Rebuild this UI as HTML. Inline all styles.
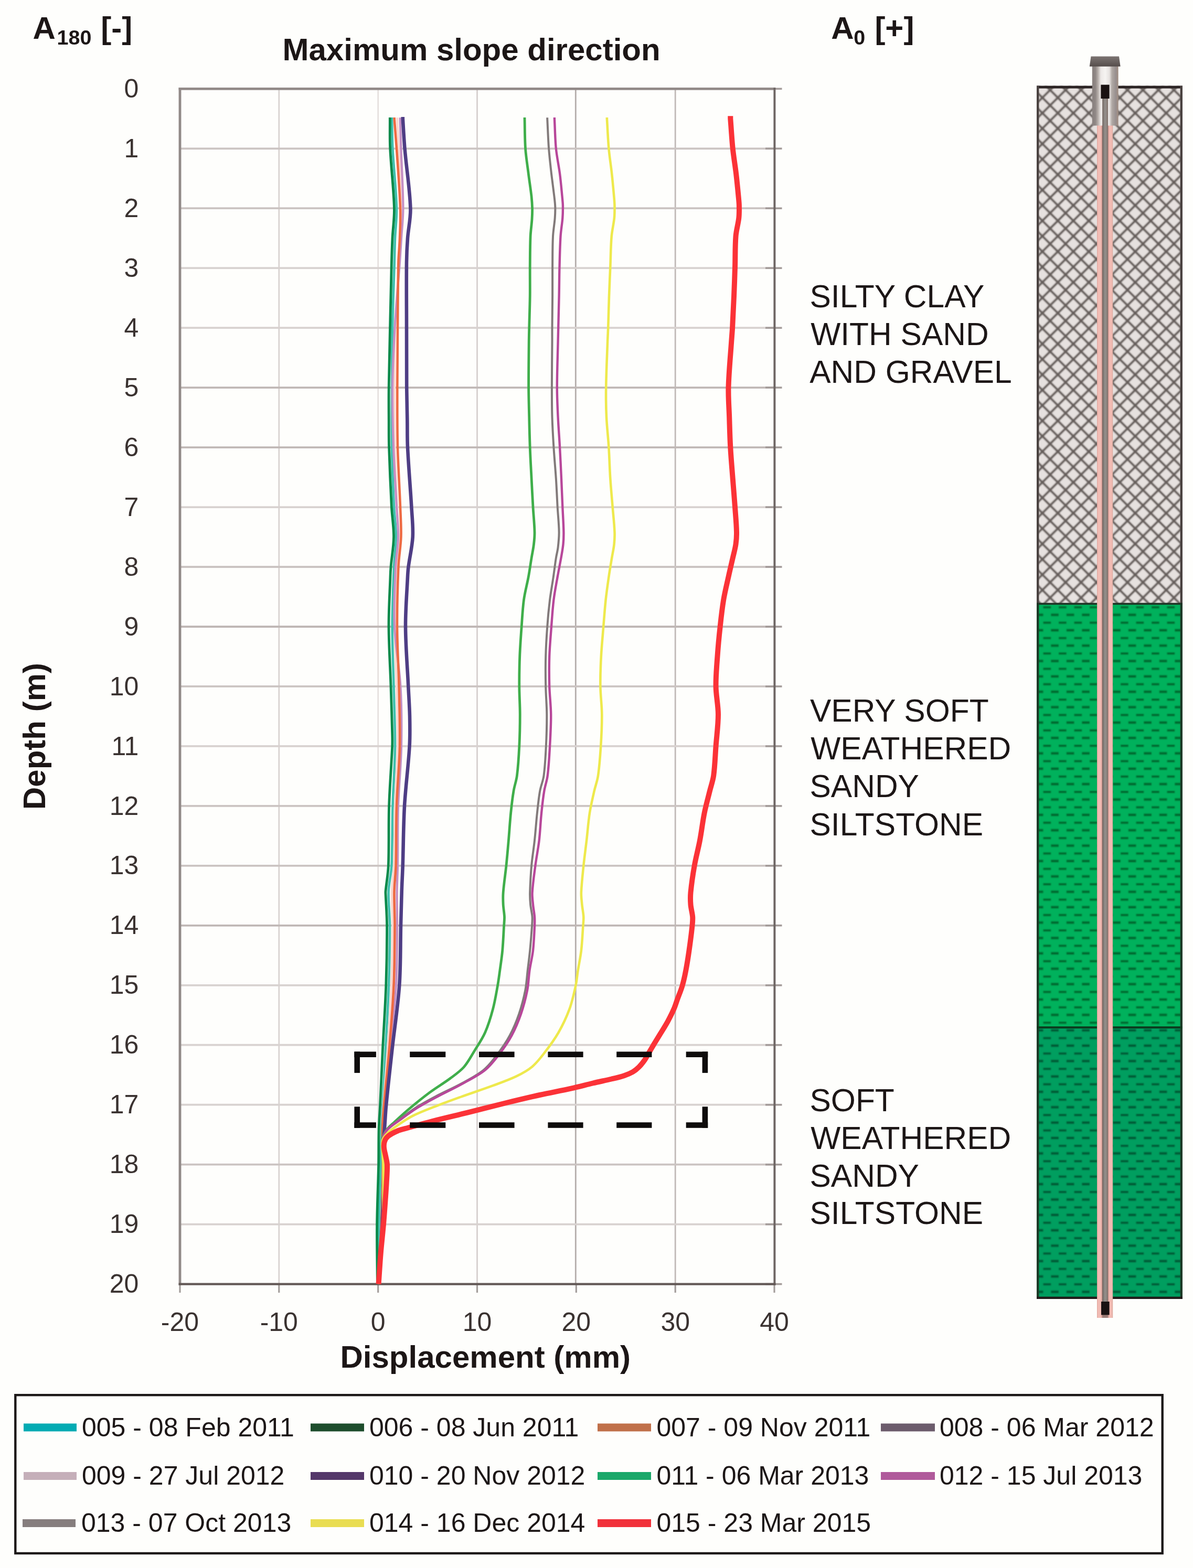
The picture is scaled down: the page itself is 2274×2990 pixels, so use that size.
<!DOCTYPE html>
<html lang="en">
<head>
<meta charset="utf-8">
<title>Inclinometer displacement profile - maximum slope direction</title>
<style>
html,body{margin:0;padding:0;background:#fefefc;}
body{width:2274px;height:2990px;overflow:hidden;font-family:"Liberation Sans",Arial,sans-serif;}
svg{display:block;}
</style>
</head>
<body>
<svg width="2274" height="2990" viewBox="0 0 2274 2990" role="img" aria-label="Inclinometer displacement profile" font-family="'Liberation Sans', Arial, sans-serif">
<defs>
<pattern id="hatch" width="29.5" height="29.34" patternUnits="userSpaceOnUse" x="1927.9" y="127.55000000000001"><rect width="29.5" height="29.34" fill="#e6e1df"/><path d="M-14.75,-14.67 L44.25,44.01 M-14.75,14.67 L14.75,44.01 M14.75,-14.67 L44.25,14.67 M44.25,-14.67 L-14.75,44.01 M14.75,-14.67 L-14.75,14.67 M44.25,14.67 L14.75,44.01" stroke="#665e5b" stroke-width="4.3" fill="none"/><rect x="-3.00" y="-3.00" width="6.0" height="6.0" fill="#665e5b"/><rect x="26.50" y="-3.00" width="6.0" height="6.0" fill="#665e5b"/><rect x="-3.00" y="26.34" width="6.0" height="6.0" fill="#665e5b"/><rect x="26.50" y="26.34" width="6.0" height="6.0" fill="#665e5b"/><rect x="11.75" y="11.67" width="6.0" height="6.0" fill="#665e5b"/></pattern>
<pattern id="dash1" width="29.5" height="29.34" patternUnits="userSpaceOnUse" x="1929.5" y="1097.29"><rect width="29.5" height="29.34" fill="#04b15b"/><rect x="0" y="-0.5" width="14.750" height="4.668" fill="#04682e"/><rect x="14.750" y="14.170" width="14.750" height="4.668" fill="#04682e"/></pattern>
<pattern id="dash2" width="29.5" height="29.34" patternUnits="userSpaceOnUse" x="1929.5" y="1097.29"><rect width="29.5" height="29.34" fill="#029e5f"/><rect x="0" y="-0.5" width="14.750" height="4.668" fill="#045a36"/><rect x="14.750" y="14.170" width="14.750" height="4.668" fill="#045a36"/></pattern>
<filter id="soft" x="0" y="0" width="1" height="1" filterUnits="objectBoundingBox"><feGaussianBlur stdDeviation="1.0"/></filter>
<filter id="soft2" x="0" y="0" width="1" height="1" filterUnits="objectBoundingBox"><feGaussianBlur stdDeviation="1.0"/></filter>
<linearGradient id="casing" x1="0" x2="1" y1="0" y2="0"><stop offset="0" stop-color="#8a8280"/><stop offset="0.12" stop-color="#8e8684"/><stop offset="0.22" stop-color="#b4aca8"/><stop offset="0.33" stop-color="#ece8e6"/><stop offset="0.5" stop-color="#f6f4f2"/><stop offset="0.66" stop-color="#e6e2e0"/><stop offset="0.76" stop-color="#b0a8a4"/><stop offset="0.9" stop-color="#989090"/><stop offset="1" stop-color="#a08c80"/></linearGradient>
<linearGradient id="rod" x1="0" x2="1" y1="0" y2="0"><stop offset="0" stop-color="#6e615c"/><stop offset="0.3" stop-color="#8a837f"/><stop offset="0.55" stop-color="#95908c"/><stop offset="0.8" stop-color="#8a7f7a"/><stop offset="1" stop-color="#80706a"/></linearGradient>
<linearGradient id="tube" x1="0" x2="1" y1="0" y2="0"><stop offset="0" stop-color="#dba69e"/><stop offset="0.05" stop-color="#eeb5ad"/><stop offset="0.11" stop-color="#f3beb6"/><stop offset="0.26" stop-color="#efb9b1"/><stop offset="0.32" stop-color="#c9938b"/><stop offset="0.36" stop-color="#9a7c76"/><stop offset="0.66" stop-color="#9a7c76"/><stop offset="0.71" stop-color="#c9918b"/><stop offset="0.76" stop-color="#f1b8b0"/><stop offset="0.90" stop-color="#f3bdb5"/><stop offset="0.96" stop-color="#e9b3a9"/><stop offset="1" stop-color="#d6a69a"/></linearGradient>
<linearGradient id="cap" x1="0" x2="0" y1="0" y2="1"><stop offset="0" stop-color="#7c7472"/><stop offset="0.6" stop-color="#665e5c"/><stop offset="1" stop-color="#544c4a"/></linearGradient>
</defs>
<rect width="2274" height="2990" fill="#fefefc"/>
<g id="grid">
<line x1="531.8" y1="169.3" x2="531.8" y2="2448.6" stroke="#d9d3d1" stroke-width="2.8"/>
<line x1="720.7" y1="169.3" x2="720.7" y2="2448.6" stroke="#e5e0de" stroke-width="2.8"/>
<line x1="909.5" y1="169.3" x2="909.5" y2="2448.6" stroke="#d6d0ce" stroke-width="2.8"/>
<line x1="1097.3" y1="169.3" x2="1097.3" y2="2448.6" stroke="#b4adab" stroke-width="2.8"/>
<line x1="1287.2" y1="169.3" x2="1287.2" y2="2448.6" stroke="#c0b9b7" stroke-width="2.8"/>
<line x1="343.0" y1="283.3" x2="1476.0" y2="283.3" stroke="#cbc4c2" stroke-width="3.8"/>
<line x1="343.0" y1="397.2" x2="1476.0" y2="397.2" stroke="#cbc4c2" stroke-width="3.8"/>
<line x1="343.0" y1="511.2" x2="1476.0" y2="511.2" stroke="#d8d2d0" stroke-width="3.8"/>
<line x1="343.0" y1="625.2" x2="1476.0" y2="625.2" stroke="#d8d2d0" stroke-width="3.8"/>
<line x1="343.0" y1="739.1" x2="1476.0" y2="739.1" stroke="#c0b8b6" stroke-width="3.8"/>
<line x1="343.0" y1="853.1" x2="1476.0" y2="853.1" stroke="#c0b8b6" stroke-width="3.8"/>
<line x1="343.0" y1="967.1" x2="1476.0" y2="967.1" stroke="#d8d2d0" stroke-width="3.8"/>
<line x1="343.0" y1="1081.0" x2="1476.0" y2="1081.0" stroke="#cbc4c2" stroke-width="3.8"/>
<line x1="343.0" y1="1195.0" x2="1476.0" y2="1195.0" stroke="#c0b8b6" stroke-width="3.8"/>
<line x1="343.0" y1="1308.9" x2="1476.0" y2="1308.9" stroke="#cbc4c2" stroke-width="3.8"/>
<line x1="343.0" y1="1422.9" x2="1476.0" y2="1422.9" stroke="#d8d2d0" stroke-width="3.8"/>
<line x1="343.0" y1="1536.9" x2="1476.0" y2="1536.9" stroke="#cbc4c2" stroke-width="3.8"/>
<line x1="343.0" y1="1650.8" x2="1476.0" y2="1650.8" stroke="#cbc4c2" stroke-width="3.8"/>
<line x1="343.0" y1="1764.8" x2="1476.0" y2="1764.8" stroke="#c0b8b6" stroke-width="3.8"/>
<line x1="343.0" y1="1878.8" x2="1476.0" y2="1878.8" stroke="#d8d2d0" stroke-width="3.8"/>
<line x1="343.0" y1="1992.7" x2="1476.0" y2="1992.7" stroke="#d8d2d0" stroke-width="3.8"/>
<line x1="343.0" y1="2106.7" x2="1476.0" y2="2106.7" stroke="#d8d2d0" stroke-width="3.8"/>
<line x1="343.0" y1="2220.7" x2="1476.0" y2="2220.7" stroke="#cbc4c2" stroke-width="3.8"/>
<line x1="343.0" y1="2334.6" x2="1476.0" y2="2334.6" stroke="#d8d2d0" stroke-width="3.8"/>
<line x1="1459" y1="169.3" x2="1490.5" y2="169.3" stroke="#a49c9a" stroke-width="3.6"/>
<line x1="1459" y1="283.3" x2="1490.5" y2="283.3" stroke="#a49c9a" stroke-width="3.6"/>
<line x1="1459" y1="397.2" x2="1490.5" y2="397.2" stroke="#a49c9a" stroke-width="3.6"/>
<line x1="1459" y1="511.2" x2="1490.5" y2="511.2" stroke="#a49c9a" stroke-width="3.6"/>
<line x1="1459" y1="625.2" x2="1490.5" y2="625.2" stroke="#a49c9a" stroke-width="3.6"/>
<line x1="1459" y1="739.1" x2="1490.5" y2="739.1" stroke="#a49c9a" stroke-width="3.6"/>
<line x1="1459" y1="853.1" x2="1490.5" y2="853.1" stroke="#a49c9a" stroke-width="3.6"/>
<line x1="1459" y1="967.1" x2="1490.5" y2="967.1" stroke="#a49c9a" stroke-width="3.6"/>
<line x1="1459" y1="1081.0" x2="1490.5" y2="1081.0" stroke="#a49c9a" stroke-width="3.6"/>
<line x1="1459" y1="1195.0" x2="1490.5" y2="1195.0" stroke="#a49c9a" stroke-width="3.6"/>
<line x1="1459" y1="1308.9" x2="1490.5" y2="1308.9" stroke="#a49c9a" stroke-width="3.6"/>
<line x1="1459" y1="1422.9" x2="1490.5" y2="1422.9" stroke="#a49c9a" stroke-width="3.6"/>
<line x1="1459" y1="1536.9" x2="1490.5" y2="1536.9" stroke="#a49c9a" stroke-width="3.6"/>
<line x1="1459" y1="1650.8" x2="1490.5" y2="1650.8" stroke="#a49c9a" stroke-width="3.6"/>
<line x1="1459" y1="1764.8" x2="1490.5" y2="1764.8" stroke="#a49c9a" stroke-width="3.6"/>
<line x1="1459" y1="1878.8" x2="1490.5" y2="1878.8" stroke="#a49c9a" stroke-width="3.6"/>
<line x1="1459" y1="1992.7" x2="1490.5" y2="1992.7" stroke="#a49c9a" stroke-width="3.6"/>
<line x1="1459" y1="2106.7" x2="1490.5" y2="2106.7" stroke="#a49c9a" stroke-width="3.6"/>
<line x1="1459" y1="2220.7" x2="1490.5" y2="2220.7" stroke="#a49c9a" stroke-width="3.6"/>
<line x1="1459" y1="2334.6" x2="1490.5" y2="2334.6" stroke="#a49c9a" stroke-width="3.6"/>
<line x1="1459" y1="2448.6" x2="1490.5" y2="2448.6" stroke="#a49c9a" stroke-width="3.6"/>
<line x1="343.0" y1="2448.6" x2="343.0" y2="2465" stroke="#a49e9c" stroke-width="3.2"/>
<line x1="531.8" y1="2448.6" x2="531.8" y2="2465" stroke="#a49e9c" stroke-width="3.2"/>
<line x1="720.7" y1="2448.6" x2="720.7" y2="2465" stroke="#a49e9c" stroke-width="3.2"/>
<line x1="909.5" y1="2448.6" x2="909.5" y2="2465" stroke="#a49e9c" stroke-width="3.2"/>
<line x1="1098.3" y1="2448.6" x2="1098.3" y2="2465" stroke="#a49e9c" stroke-width="3.2"/>
<line x1="1287.2" y1="2448.6" x2="1287.2" y2="2465" stroke="#a49e9c" stroke-width="3.2"/>
<line x1="1476.0" y1="2448.6" x2="1476.0" y2="2465" stroke="#a49e9c" stroke-width="3.2"/>
<line x1="343.0" y1="166.9" x2="343.0" y2="2450.7" stroke="#928a88" stroke-width="4.8"/>
<line x1="340.6" y1="169.3" x2="1478.0" y2="169.3" stroke="#928a88" stroke-width="4.8"/>
<line x1="1476.4" y1="166.9" x2="1476.4" y2="2450.7" stroke="#6e6664" stroke-width="4.0"/>
<line x1="340.6" y1="2448.6" x2="1478.4" y2="2448.6" stroke="#625856" stroke-width="4.2"/>
</g>
<g id="curves">
<path d="M747.0,224.0 L747.0,226.3 C747.5,245.3 747.4,264.3 748.4,283.3 C750.4,321.3 755.0,359.2 756.0,397.2 C756.5,416.2 753.8,435.2 753.0,454.2 C752.4,469.5 752.2,484.7 751.8,500.0 C750.6,541.7 748.8,583.4 748.0,625.2 C747.2,663.1 747.2,701.1 747.0,739.1 C746.8,777.1 746.3,815.1 747.0,853.1 C747.7,891.1 749.2,929.1 751.0,967.1 C751.9,986.1 755.0,1005.0 755.0,1024.0 C755.0,1043.0 751.8,1062.0 751.0,1081.0 C749.4,1119.0 747.8,1157.0 747.7,1195.0 C747.6,1233.0 749.6,1271.0 750.5,1308.9 C751.4,1346.9 753.3,1384.9 753.0,1422.9 C752.7,1460.9 749.6,1498.9 748.5,1536.9 C747.4,1574.9 748.2,1612.9 746.4,1650.8 C745.6,1667.3 741.1,1683.6 740.6,1700.0 C740.0,1721.5 743.0,1743.2 743.0,1764.8 C743.1,1802.8 742.3,1840.8 741.0,1878.8 C739.6,1919.2 737.0,1959.6 735.0,2000.0 C733.3,2035.6 731.6,2071.1 729.8,2106.7 C729.0,2121.9 727.9,2137.1 727.4,2152.3 C726.6,2175.1 726.6,2197.9 726.0,2220.7 C725.0,2258.7 723.2,2296.6 722.4,2334.6 C721.6,2372.6 721.5,2410.6 721.0,2448.6" fill="none" stroke="#3fc0ae" stroke-width="4.6" stroke-linejoin="round" stroke-linecap="butt" />
<path d="M757.0,224.2 L757.0,226.3 C758.0,245.3 759.0,264.3 760.0,283.3 C762.0,321.3 765.1,359.2 766.0,397.2 C766.4,416.2 764.9,435.2 764.0,454.2 C763.3,469.5 762.0,484.7 761.0,500.0 C758.3,541.7 754.6,583.4 753.0,625.2 C751.6,663.1 752.1,701.1 752.0,739.1 C751.9,777.1 751.7,815.1 752.5,853.1 C753.3,891.1 755.5,929.1 757.0,967.1 C757.8,986.1 759.7,1005.1 759.4,1024.0 C759.1,1043.1 755.8,1062.0 755.0,1081.0 C753.5,1119.0 752.3,1157.0 752.5,1195.0 C752.7,1233.0 755.1,1271.0 756.0,1308.9 C756.9,1346.9 758.5,1384.9 758.0,1422.9 C757.5,1460.9 754.2,1498.9 753.0,1536.9 C751.8,1574.9 752.4,1612.9 751.0,1650.8 C750.4,1667.3 747.4,1683.6 747.0,1700.0 C746.5,1721.6 748.6,1743.2 748.5,1764.8 C748.3,1802.8 747.5,1840.8 746.0,1878.8 C744.4,1919.2 741.7,1959.6 739.0,2000.0 C736.7,2035.6 733.3,2071.1 731.0,2106.7 C730.0,2121.9 729.1,2137.1 729.0,2152.3 C728.8,2175.1 730.2,2197.9 730.0,2220.7 C729.6,2258.7 728.4,2296.7 727.0,2334.6 C725.6,2372.6 723.4,2410.6 721.6,2448.6" fill="none" stroke="#fad7cf" stroke-width="4.2" stroke-linejoin="round" stroke-linecap="butt" />
<path d="M762.7,224.2 L762.7,226.3 C763.3,245.3 763.8,264.3 764.4,283.3 C765.7,321.3 768.3,359.3 768.4,397.2 C768.5,416.2 766.2,435.2 765.0,454.2 C764.0,469.5 763.1,484.7 762.0,500.0 C758.9,541.7 754.9,583.4 752.5,625.2 C750.3,663.1 748.4,701.1 748.0,739.1 C747.6,777.1 748.7,815.1 750.0,853.1 C751.3,891.1 754.0,929.1 756.0,967.1 C757.0,986.0 759.3,1005.1 759.0,1024.0 C758.7,1043.1 754.8,1062.0 754.0,1081.0 C752.4,1119.0 750.4,1157.1 752.0,1195.0 C753.6,1233.1 761.2,1270.9 763.4,1308.9 C765.6,1346.8 765.7,1385.0 765.0,1422.9 C764.3,1460.9 760.2,1498.9 759.0,1536.9 C757.8,1574.8 758.6,1612.9 758.0,1650.8 C757.8,1667.2 756.7,1683.6 756.6,1700.0 C756.4,1721.6 757.2,1743.2 757.0,1764.8 C756.7,1802.8 757.2,1840.9 755.0,1878.8 C752.7,1919.3 747.3,1959.6 743.4,2000.0 C740.0,2035.6 736.1,2071.1 733.0,2106.7 C731.7,2121.9 730.3,2137.1 730.0,2152.3 C729.5,2175.1 730.9,2197.9 730.5,2220.7 C729.9,2258.7 728.5,2296.7 727.0,2334.6 C725.5,2372.6 723.4,2410.6 721.6,2448.6" fill="none" stroke="#c48fc4" stroke-width="4.2" stroke-linejoin="round" stroke-linecap="butt" />
<path d="M751.6,224.0 L751.6,226.3 C753.1,245.3 754.7,264.3 756.0,283.3 C758.5,321.2 761.7,359.2 763.0,397.2 C763.7,416.2 762.7,435.2 762.0,454.2 C761.5,469.5 759.8,484.7 759.4,500.0 C758.4,541.7 758.4,583.4 758.0,625.2 C757.7,663.1 757.3,701.1 757.3,739.1 C757.3,777.1 757.1,815.1 758.0,853.1 C759.0,891.1 761.6,929.1 763.0,967.1 C763.7,986.0 765.0,1005.1 764.4,1024.0 C763.8,1043.1 760.2,1062.0 759.4,1081.0 C757.8,1119.0 756.8,1157.0 757.0,1195.0 C757.2,1233.0 759.7,1271.0 760.5,1308.9 C761.3,1346.9 762.7,1385.0 762.0,1422.9 C761.2,1460.9 757.2,1498.9 756.0,1536.9 C754.8,1574.8 755.6,1612.9 754.6,1650.8 C754.1,1667.3 751.8,1683.6 751.5,1700.0 C751.1,1721.6 752.6,1743.2 752.5,1764.8 C752.3,1802.8 752.2,1840.8 750.5,1878.8 C748.7,1919.2 745.3,1959.6 742.0,2000.0 C739.1,2035.6 735.0,2071.1 732.0,2106.7 C730.7,2121.9 729.3,2137.1 729.0,2152.3 C728.6,2175.1 730.2,2197.9 730.0,2220.7 C729.6,2258.7 728.4,2296.7 727.0,2334.6 C725.6,2372.6 723.4,2410.6 721.6,2448.6" fill="none" stroke="#ee6a42" stroke-width="4.6" stroke-linejoin="round" stroke-linecap="butt" />
<path d="M743.3,223.9 L743.3,226.3 C743.4,245.3 742.8,264.3 743.7,283.3 C745.5,321.3 750.4,359.2 751.4,397.2 C751.9,416.2 748.9,435.2 748.0,454.2 C747.3,469.5 746.8,484.7 746.4,500.0 C745.3,541.7 744.4,583.4 743.5,625.2 C742.7,663.1 741.7,701.1 741.2,739.1 C740.9,759.4 741.1,779.7 741.2,800.0 C741.3,817.7 741.0,835.4 741.6,853.1 C742.8,891.1 744.4,929.1 746.4,967.1 C747.4,986.1 750.7,1005.1 750.5,1024.0 C750.3,1043.1 746.6,1062.0 745.0,1081.0 C744.5,1087.3 744.2,1093.7 744.0,1100.0 C742.9,1131.7 740.8,1163.3 741.0,1195.0 C741.2,1233.0 743.8,1271.0 745.0,1308.9 C746.0,1339.3 747.0,1369.6 747.7,1400.0 C747.9,1407.6 748.0,1415.3 747.7,1422.9 C746.0,1460.9 742.8,1498.9 741.6,1536.9 C740.4,1574.8 741.8,1612.9 740.3,1650.8 C739.6,1667.3 736.5,1683.6 735.0,1700.0 C734.8,1702.6 735.1,1705.2 735.2,1707.8 C736.0,1726.8 737.5,1745.8 737.6,1764.8 C737.7,1802.8 737.1,1840.8 735.8,1878.8 C734.4,1919.2 731.5,1959.6 729.5,2000.0 C727.8,2035.6 726.3,2071.1 724.6,2106.7 C723.9,2121.9 722.6,2137.1 722.2,2152.3 C721.6,2175.1 722.0,2197.9 721.6,2220.7 C720.8,2258.7 719.0,2296.6 718.6,2334.6 C718.2,2372.6 719.1,2410.6 719.4,2448.6" fill="none" stroke="#0a8a4a" stroke-width="4.8" stroke-linejoin="round" stroke-linecap="butt" />
<path d="M767.8,223.0 L767.8,226.3 C769.0,245.3 769.9,264.3 771.5,283.3 C774.7,321.3 781.2,359.2 782.4,397.2 C783.0,416.2 778.4,435.2 777.0,454.2 C775.9,469.4 775.2,484.7 775.0,500.0 C774.5,541.7 775.0,583.4 775.0,625.2 C775.0,663.1 774.9,701.1 775.2,739.1 C775.4,759.4 776.0,779.7 776.3,800.0 C776.6,817.7 776.1,835.4 777.0,853.1 C778.8,891.1 782.2,929.1 784.4,967.1 C785.5,986.0 787.7,1005.1 786.7,1024.0 C785.7,1043.1 780.9,1062.0 778.5,1081.0 C777.7,1087.3 777.3,1093.7 777.0,1100.0 C775.5,1131.6 772.8,1163.3 773.0,1195.0 C773.2,1233.0 776.5,1271.0 778.3,1308.9 C779.2,1327.9 780.6,1346.9 781.0,1365.9 C781.4,1384.9 781.7,1404.0 780.6,1422.9 C778.4,1460.9 773.2,1498.8 771.0,1536.9 C768.9,1574.8 768.9,1612.9 767.7,1650.8 C767.2,1667.2 766.2,1683.6 765.7,1700.0 C765.0,1721.6 764.5,1743.2 764.0,1764.8 C763.1,1802.8 763.9,1840.9 761.3,1878.8 C758.5,1919.3 752.1,1959.6 747.6,2000.0 C743.7,2035.6 739.6,2071.1 736.2,2106.7 C734.7,2121.9 734.1,2137.1 733.0,2152.3 C732.4,2160.7 731.1,2169.0 731.0,2177.4 C730.9,2191.8 732.7,2206.2 732.5,2220.7 C731.9,2258.7 730.3,2296.7 728.6,2334.6 C726.8,2372.6 724.2,2410.6 722.0,2448.6" fill="none" stroke="#4e3d84" stroke-width="6.6" stroke-linejoin="round" stroke-linecap="butt" />
<path d="M1000.0,223.9 L1000.0,226.3 C1000.5,245.2 1000.2,264.2 1001.5,283.1 C1002.6,299.2 1005.3,315.2 1007.3,331.2 C1009.1,345.8 1011.5,360.4 1013.1,375.0 C1013.9,382.7 1014.4,390.5 1014.6,398.3 C1014.7,404.9 1014.4,411.4 1014.0,418.0 C1013.3,428.9 1011.6,439.8 1011.1,450.8 C1010.3,470.2 1010.4,489.7 1010.2,509.2 C1010.1,527.7 1010.4,546.1 1010.2,564.6 C1009.9,584.8 1009.2,605.0 1008.7,625.2 C1008.5,633.5 1008.3,641.7 1008.2,650.0 C1007.9,679.7 1007.5,709.3 1007.6,739.0 C1007.7,757.9 1008.3,776.9 1008.7,795.8 C1009.1,814.9 1009.5,833.9 1010.2,853.0 C1010.9,872.8 1012.1,892.7 1013.1,912.5 C1014.0,930.7 1015.0,948.8 1016.0,967.0 C1016.9,982.9 1018.7,998.7 1019.0,1014.6 C1019.2,1022.4 1018.4,1030.2 1017.5,1037.9 C1016.5,1046.7 1014.5,1055.4 1013.1,1064.2 C1011.1,1076.1 1009.5,1088.1 1007.3,1100.0 C1004.6,1114.6 1000.5,1129.0 998.5,1143.7 C996.2,1160.6 995.4,1177.8 994.2,1194.8 C992.8,1213.8 991.4,1232.7 990.7,1251.7 C990.0,1270.7 989.7,1289.8 989.8,1308.8 C989.9,1326.7 991.2,1344.6 991.2,1362.5 C991.2,1382.6 990.8,1402.8 989.8,1422.9 C988.9,1441.7 987.8,1460.6 985.4,1479.2 C984.2,1489.0 980.6,1498.5 979.0,1508.3 C976.7,1522.1 975.1,1536.1 973.7,1550.0 C971.9,1567.5 970.9,1585.0 969.4,1602.5 C968.0,1618.5 966.6,1634.6 965.0,1650.6 C963.2,1667.7 960.5,1684.6 959.2,1701.7 C958.6,1709.4 958.8,1717.3 959.2,1725.0 C959.6,1732.8 961.2,1740.5 961.5,1748.3 C961.7,1754.1 960.9,1760.0 960.6,1765.8 C959.7,1781.4 959.1,1797.0 957.7,1812.5 C956.6,1825.0 954.6,1837.5 952.9,1850.0 C951.5,1859.9 950.3,1869.9 948.5,1879.8 C945.8,1894.7 943.4,1909.8 939.5,1924.4 C935.5,1939.5 930.9,1954.7 924.6,1969.0 C919.2,1981.3 911.4,1992.5 904.3,2004.0 C897.8,2014.5 892.1,2025.8 884.0,2035.0 C876.6,2043.3 867.0,2049.8 858.0,2056.5 C845.5,2065.8 832.0,2073.6 819.5,2082.9 C805.5,2093.3 792.0,2104.3 778.7,2115.5 C769.4,2123.3 760.4,2131.7 751.5,2140.0 C746.8,2144.4 741.5,2148.4 737.9,2153.5 C734.0,2159.0 729.4,2165.4 729.0,2172.0 C728.0,2187.8 733.3,2204.4 733.5,2220.7 C733.8,2258.6 732.3,2296.7 730.5,2334.6 C728.6,2372.7 725.1,2410.6 722.4,2448.6" fill="none" stroke="#3fae4a" stroke-width="4.8" stroke-linejoin="round" stroke-linecap="butt" />
<path d="M1043.2,224.3 L1043.2,226.3 C1044.2,245.2 1044.7,264.2 1046.1,283.1 C1047.3,299.2 1049.2,315.2 1051.0,331.2 C1052.7,345.8 1054.8,360.4 1056.5,375.0 C1057.3,381.6 1058.1,388.3 1058.3,395.0 C1058.5,401.9 1058.2,408.9 1057.7,415.8 C1056.8,427.5 1054.6,439.1 1054.0,450.8 C1053.0,470.2 1053.3,489.7 1053.1,509.2 C1053.0,527.7 1053.2,546.1 1053.1,564.6 C1053.0,584.8 1052.6,605.0 1052.5,625.2 C1052.4,633.5 1052.5,641.7 1052.5,650.0 C1052.3,679.7 1051.9,709.3 1051.9,739.0 C1051.9,757.9 1051.9,776.9 1052.5,795.8 C1053.1,814.9 1054.2,833.9 1055.4,853.0 C1056.6,872.8 1058.5,892.7 1059.8,912.5 C1061.0,930.7 1061.7,948.8 1062.7,967.0 C1063.6,982.9 1065.4,998.7 1065.6,1014.6 C1065.7,1024.3 1064.7,1034.1 1063.6,1043.7 C1062.8,1050.6 1060.9,1057.3 1059.8,1064.2 C1057.9,1076.1 1056.6,1088.1 1054.8,1100.0 C1052.7,1114.6 1049.9,1129.1 1048.1,1143.7 C1046.0,1160.7 1044.4,1177.7 1043.2,1194.8 C1041.8,1213.7 1040.7,1232.7 1040.2,1251.7 C1039.7,1270.7 1039.8,1289.8 1040.2,1308.8 C1040.5,1326.7 1042.2,1344.6 1042.3,1362.5 C1042.4,1382.6 1041.8,1402.8 1040.8,1422.9 C1039.9,1441.7 1039.0,1460.6 1036.5,1479.2 C1035.2,1489.1 1030.9,1498.5 1029.2,1508.3 C1026.7,1522.1 1025.4,1536.1 1023.9,1550.0 C1022.0,1567.5 1020.9,1585.0 1019.0,1602.5 C1017.3,1618.6 1014.5,1634.5 1013.1,1650.6 C1011.6,1667.6 1010.7,1684.7 1010.2,1701.7 C1010.0,1709.5 1010.4,1717.3 1011.1,1725.0 C1011.8,1732.8 1014.0,1740.5 1014.6,1748.3 C1015.0,1754.1 1014.4,1760.0 1014.0,1765.8 C1012.9,1781.4 1011.7,1797.0 1010.2,1812.5 C1009.0,1825.0 1007.3,1837.5 1005.8,1850.0 C1004.3,1862.9 1003.7,1876.0 1001.2,1888.7 C998.2,1903.8 994.3,1918.8 989.3,1933.3 C984.4,1947.6 978.5,1961.7 971.4,1975.0 C964.7,1987.5 956.4,1999.4 947.8,2010.7 C939.8,2021.2 931.8,2032.3 921.6,2040.5 C908.8,2050.9 893.6,2058.5 879.0,2066.5 C863.4,2075.1 846.8,2082.2 831.0,2090.5 C818.1,2097.3 805.2,2104.1 793.0,2111.9 C781.6,2119.2 770.8,2127.5 760.0,2135.7 C752.1,2141.8 743.1,2147.3 737.0,2154.8 C732.8,2160.0 729.4,2167.1 729.0,2173.8 C728.2,2189.1 733.4,2205.0 733.5,2220.7 C733.9,2258.6 732.3,2296.7 730.5,2334.6 C728.6,2372.7 725.1,2410.6 722.4,2448.6" fill="none" stroke="#827a7a" stroke-width="4.0" stroke-linejoin="round" stroke-linecap="butt" />
<path d="M1056.9,224.1 L1056.9,226.3 C1057.9,245.2 1058.0,264.3 1059.8,283.1 C1061.4,299.2 1065.0,315.1 1067.1,331.2 C1069.0,345.8 1070.2,360.4 1071.6,375.0 C1072.1,380.7 1072.8,386.3 1072.9,392.0 C1073.0,399.9 1072.9,407.9 1072.3,415.8 C1071.4,427.5 1069.2,439.1 1068.5,450.8 C1067.3,470.2 1067.0,489.7 1066.5,509.2 C1066.0,527.7 1066.0,546.1 1065.6,564.6 C1065.2,584.8 1064.7,605.0 1064.2,625.2 C1064.0,633.5 1063.8,641.7 1063.6,650.0 C1063.0,679.7 1061.8,709.3 1061.8,739.0 C1061.8,757.9 1062.7,776.9 1063.6,795.8 C1064.5,814.9 1066.1,833.9 1067.1,853.0 C1068.2,872.8 1069.1,892.7 1070.0,912.5 C1070.8,930.7 1071.5,948.8 1072.3,967.0 C1073.0,982.9 1074.1,998.7 1074.4,1014.6 C1074.5,1022.4 1074.3,1030.2 1073.5,1037.9 C1072.6,1046.7 1070.9,1055.5 1069.4,1064.2 C1067.3,1076.2 1064.8,1088.0 1062.7,1100.0 C1060.1,1114.5 1057.2,1129.1 1055.4,1143.7 C1053.3,1160.7 1052.3,1177.8 1051.0,1194.8 C1049.6,1213.8 1047.8,1232.7 1047.2,1251.7 C1046.6,1270.7 1046.7,1289.8 1047.2,1308.8 C1047.7,1326.7 1050.1,1344.6 1050.2,1362.5 C1050.4,1382.6 1049.2,1402.8 1048.1,1422.9 C1047.1,1441.7 1046.1,1460.6 1043.7,1479.2 C1042.5,1489.0 1038.9,1498.5 1037.3,1508.3 C1035.0,1522.1 1033.5,1536.1 1032.1,1550.0 C1030.3,1567.5 1029.7,1585.1 1027.7,1602.5 C1025.8,1618.6 1022.5,1634.5 1020.4,1650.6 C1018.2,1667.6 1015.6,1684.6 1014.6,1701.7 C1014.1,1709.4 1015.3,1717.3 1016.0,1725.0 C1016.7,1732.8 1018.4,1740.5 1019.0,1748.3 C1019.4,1754.1 1019.3,1760.0 1019.0,1765.8 C1018.3,1781.4 1017.7,1797.0 1016.0,1812.5 C1014.6,1825.1 1011.3,1837.4 1009.5,1850.0 C1007.6,1862.8 1007.5,1876.0 1005.0,1888.7 C1002.0,1903.8 998.1,1918.8 993.1,1933.3 C988.2,1947.6 982.3,1961.7 975.2,1975.0 C968.4,1987.5 960.1,1999.4 951.4,2010.7 C943.3,2021.2 935.0,2032.3 924.6,2040.5 C911.2,2051.2 895.1,2058.9 880.0,2067.3 C864.9,2075.7 849.2,2082.9 834.0,2091.0 C821.0,2097.9 807.9,2104.7 795.5,2112.5 C783.9,2119.7 773.0,2127.9 762.0,2136.0 C753.8,2142.0 744.4,2147.3 738.0,2154.8 C733.6,2159.9 730.0,2167.1 729.5,2173.8 C728.5,2189.0 733.4,2205.0 733.5,2220.7 C733.7,2258.6 732.3,2296.7 730.5,2334.6 C728.6,2372.7 725.1,2410.6 722.4,2448.6" fill="none" stroke="#b8479a" stroke-width="4.4" stroke-linejoin="round" stroke-linecap="butt" />
<path d="M1156.9,224.0 L1156.9,226.3 C1158.1,245.2 1158.7,264.2 1160.4,283.1 C1161.8,299.2 1164.5,315.1 1166.2,331.2 C1167.8,345.8 1169.1,360.4 1170.4,375.0 C1170.9,380.7 1171.4,386.3 1171.5,392.0 C1171.6,399.9 1171.7,407.9 1170.9,415.8 C1169.7,427.5 1166.7,439.1 1165.7,450.8 C1164.1,470.2 1164.1,489.7 1163.3,509.2 C1162.5,527.7 1161.7,546.1 1161.0,564.6 C1160.3,584.8 1159.9,605.0 1159.2,625.2 C1158.9,633.5 1158.4,641.7 1158.1,650.0 C1157.1,679.7 1155.6,709.3 1155.2,739.0 C1154.9,757.9 1155.1,776.9 1156.0,795.8 C1156.9,814.9 1159.2,833.9 1160.4,853.0 C1161.6,872.8 1162.0,892.7 1163.3,912.5 C1164.5,930.7 1166.2,948.8 1167.7,967.0 C1169.0,982.9 1170.9,998.7 1171.5,1014.6 C1171.8,1022.4 1171.4,1030.2 1170.6,1037.9 C1169.7,1046.7 1167.6,1055.4 1166.2,1064.2 C1164.2,1076.1 1162.1,1088.0 1160.4,1100.0 C1158.3,1114.5 1156.2,1129.1 1154.6,1143.7 C1152.8,1160.7 1151.6,1177.8 1150.2,1194.8 C1148.7,1213.8 1146.8,1232.7 1145.8,1251.7 C1144.8,1270.7 1144.1,1289.8 1144.4,1308.8 C1144.6,1326.7 1147.2,1344.6 1147.3,1362.5 C1147.4,1382.6 1146.5,1402.8 1145.2,1422.9 C1144.0,1441.7 1142.7,1460.6 1140.0,1479.2 C1138.6,1489.1 1134.9,1498.5 1132.7,1508.3 C1129.6,1522.1 1126.2,1536.0 1124.0,1550.0 C1121.3,1567.4 1120.1,1585.0 1118.1,1602.5 C1116.2,1618.5 1114.0,1634.5 1112.3,1650.6 C1110.6,1667.6 1108.6,1684.7 1107.9,1701.7 C1107.6,1709.5 1108.7,1717.3 1109.4,1725.0 C1110.1,1732.8 1111.9,1740.5 1112.3,1748.3 C1112.6,1754.1 1111.8,1760.0 1111.4,1765.8 C1110.3,1781.4 1109.7,1797.0 1107.9,1812.5 C1106.5,1825.1 1103.7,1837.5 1101.7,1850.0 C1100.1,1859.9 1099.4,1870.0 1097.3,1879.8 C1094.0,1894.8 1090.7,1910.0 1085.4,1924.4 C1079.8,1939.7 1072.6,1954.8 1064.5,1969.0 C1056.7,1982.6 1047.3,1995.3 1037.7,2007.7 C1030.4,2017.1 1023.0,2026.9 1013.9,2034.5 C1005.1,2041.8 994.6,2047.4 984.2,2052.4 C969.8,2059.3 954.5,2064.6 939.5,2070.2 C919.8,2077.5 899.8,2084.0 880.0,2091.1 C864.2,2096.8 848.5,2102.4 832.9,2108.6 C816.9,2114.9 800.5,2120.8 785.2,2128.6 C773.5,2134.6 762.7,2142.4 752.0,2150.0 C746.0,2154.3 740.0,2158.9 735.2,2164.3 C732.2,2167.6 729.3,2171.7 728.6,2176.0 C727.3,2183.6 728.8,2192.0 729.2,2200.0 C729.5,2206.9 730.5,2213.8 730.6,2220.7 C730.9,2237.1 730.7,2253.6 730.6,2270.0 C730.4,2291.5 730.6,2313.1 729.6,2334.6 C727.9,2372.6 724.8,2410.6 722.4,2448.6" fill="none" stroke="#eee94c" stroke-width="4.6" stroke-linejoin="round" stroke-linecap="butt" />
<path d="M1392.3,221.3 L1392.3,226.3 C1393.8,245.2 1394.8,264.2 1396.7,283.1 C1398.4,299.2 1401.2,315.1 1403.1,331.2 C1404.8,345.8 1406.2,360.4 1407.6,375.0 C1408.1,380.7 1408.8,386.3 1408.9,392.0 C1409.0,399.9 1409.2,407.9 1408.3,415.8 C1407.0,427.5 1403.4,439.0 1402.5,450.8 C1401.0,470.2 1401.6,489.7 1401.0,509.2 C1400.4,527.7 1399.8,546.1 1399.0,564.6 C1398.1,584.8 1397.2,605.0 1396.1,625.2 C1395.6,633.5 1394.9,641.7 1394.3,650.0 C1392.3,679.7 1389.3,709.3 1388.5,739.0 C1388.0,757.9 1389.6,776.9 1390.2,795.8 C1390.8,814.9 1391.2,834.0 1392.3,853.0 C1393.4,872.9 1395.2,892.7 1396.7,912.5 C1398.1,930.7 1399.7,948.8 1401.0,967.0 C1402.1,982.9 1403.7,998.7 1404.0,1014.6 C1404.2,1022.4 1403.6,1030.2 1402.5,1037.9 C1401.2,1046.8 1398.7,1055.4 1396.7,1064.2 C1394.0,1076.1 1391.1,1088.0 1388.5,1100.0 C1385.3,1114.5 1381.6,1129.0 1379.2,1143.7 C1376.4,1160.6 1374.5,1177.7 1372.7,1194.8 C1370.6,1213.7 1368.8,1232.7 1367.5,1251.7 C1366.1,1270.7 1364.3,1289.8 1364.6,1308.8 C1364.8,1326.7 1369.0,1344.6 1369.0,1362.5 C1369.0,1382.6 1366.1,1402.8 1364.6,1422.9 C1363.2,1441.7 1362.7,1460.6 1360.2,1479.2 C1358.8,1489.1 1355.3,1498.6 1352.9,1508.3 C1349.5,1522.2 1345.5,1536.0 1342.7,1550.0 C1339.2,1567.4 1337.3,1585.1 1334.0,1602.5 C1331.0,1618.6 1326.5,1634.5 1323.7,1650.6 C1320.7,1667.5 1318.2,1684.6 1316.5,1701.7 C1315.8,1709.4 1315.9,1717.3 1316.5,1725.0 C1317.1,1732.8 1319.6,1740.5 1320.2,1748.3 C1320.6,1754.1 1320.0,1760.0 1319.4,1765.8 C1317.8,1781.4 1315.7,1797.0 1313.5,1812.5 C1311.7,1825.0 1309.8,1837.6 1307.4,1850.0 C1305.5,1860.0 1303.4,1870.0 1300.5,1879.8 C1297.9,1888.7 1294.2,1897.3 1291.0,1906.0 C1288.9,1911.9 1287.1,1918.0 1284.6,1923.8 C1281.1,1931.9 1277.1,1939.8 1272.9,1947.6 C1268.5,1955.7 1263.4,1963.5 1258.6,1971.4 C1254.3,1978.6 1249.8,1985.7 1245.5,1992.9 C1242.7,1997.6 1239.9,2002.4 1237.1,2007.1 C1234.3,2011.9 1231.9,2016.9 1228.8,2021.4 C1225.6,2026.0 1222.1,2030.5 1218.1,2034.5 C1214.5,2038.1 1210.5,2041.5 1206.2,2044.0 C1201.0,2047.0 1195.2,2049.3 1189.5,2051.2 C1181.7,2053.8 1173.7,2055.6 1165.7,2057.5 C1153.8,2060.3 1141.9,2062.7 1130.0,2065.5 C1116.1,2068.8 1102.3,2072.5 1088.3,2075.6 C1068.5,2080.0 1048.6,2083.6 1028.8,2088.0 C1006.1,2093.1 983.6,2098.5 961.0,2104.0 C938.0,2109.6 915.0,2115.7 892.0,2121.4 C869.4,2127.0 846.6,2132.2 824.0,2138.0 C808.6,2141.9 793.3,2146.3 778.0,2150.5 C771.6,2152.3 765.0,2153.5 758.9,2156.0 C752.3,2158.8 745.5,2162.1 740.0,2166.4 C737.0,2168.8 734.5,2172.4 733.2,2176.0 C731.8,2179.6 731.6,2184.0 731.9,2188.0 C732.3,2193.7 734.1,2199.3 735.2,2205.0 C736.2,2210.2 737.8,2215.4 738.0,2220.7 C738.3,2232.0 737.3,2243.4 736.7,2254.8 C736.1,2266.5 735.2,2278.3 734.4,2290.0 C733.3,2304.9 732.3,2319.7 731.0,2334.6 C729.4,2353.1 727.2,2371.5 725.7,2390.0 C724.1,2409.5 723.0,2429.1 721.6,2448.6" fill="none" stroke="#fb3237" stroke-width="10.0" stroke-linejoin="round" stroke-linecap="butt" />
</g>
<g id="dashbox" fill="#0e0c0c">
<rect x="675.4" y="2005.4" width="41.5" height="10.6"/>
<rect x="1307.7" y="2005.4" width="41.5" height="10.6"/>
<rect x="781.2" y="2005.4" width="68.09999999999991" height="10.6"/>
<rect x="913" y="2005.4" width="67.60000000000002" height="10.6"/>
<rect x="1044.4" y="2005.4" width="67.19999999999982" height="10.6"/>
<rect x="1175.2" y="2005.4" width="67.20000000000005" height="10.6"/>
<rect x="675.4" y="2140.2000000000003" width="41.5" height="10.6"/>
<rect x="1307.7" y="2140.2000000000003" width="41.5" height="10.6"/>
<rect x="781.2" y="2140.2000000000003" width="68.09999999999991" height="10.6"/>
<rect x="913" y="2140.2000000000003" width="67.60000000000002" height="10.6"/>
<rect x="1044.4" y="2140.2000000000003" width="67.19999999999982" height="10.6"/>
<rect x="1175.2" y="2140.2000000000003" width="67.20000000000005" height="10.6"/>
<rect x="675.4" y="2005.4" width="10.6" height="40.5"/>
<rect x="675.4" y="2110.3" width="10.6" height="40.5"/>
<rect x="1338.6000000000001" y="2005.4" width="10.6" height="40.5"/>
<rect x="1338.6000000000001" y="2110.3" width="10.6" height="40.5"/>
</g>
<g id="ylabels" font-size="50" fill="#3a3230" text-anchor="end">
<text x="264.4" y="185.9">0</text>
<text x="264.4" y="299.9">1</text>
<text x="264.4" y="413.8">2</text>
<text x="264.4" y="527.8">3</text>
<text x="264.4" y="641.8">4</text>
<text x="264.4" y="755.7">5</text>
<text x="264.4" y="869.7">6</text>
<text x="264.4" y="983.7">7</text>
<text x="264.4" y="1097.6">8</text>
<text x="264.4" y="1211.6">9</text>
<text x="264.4" y="1325.5">10</text>
<text x="264.4" y="1439.5">11</text>
<text x="264.4" y="1553.5">12</text>
<text x="264.4" y="1667.4">13</text>
<text x="264.4" y="1781.4">14</text>
<text x="264.4" y="1895.4">15</text>
<text x="264.4" y="2009.3">16</text>
<text x="264.4" y="2123.3">17</text>
<text x="264.4" y="2237.3">18</text>
<text x="264.4" y="2351.2">19</text>
<text x="264.4" y="2465.2">20</text>
</g>
<g id="xlabels" font-size="50" fill="#3a3230" text-anchor="middle">
<text x="343.0" y="2537.5">-20</text>
<text x="531.8" y="2537.5">-10</text>
<text x="720.7" y="2537.5">0</text>
<text x="909.5" y="2537.5">10</text>
<text x="1098.3" y="2537.5">20</text>
<text x="1287.2" y="2537.5">30</text>
<text x="1476.0" y="2537.5">40</text>
</g>
<g font-weight="bold" font-size="60" fill="#1c1616">
<text x="538.5" y="114.8">Maximum slope direction</text>
<text x="648.5" y="2607.5">Displacement (mm)</text>
<text transform="translate(86.2,1544) rotate(-90)">Depth (m)</text>
<text x="62.4" y="74.4">A<tspan font-size="39.5" x="108.6" dy="10.6">180 </tspan><tspan x="192.2" dy="-10.6">[-]</tspan></text>
<text x="1584.2" y="74.4">A<tspan font-size="39.5" x="1627.2" dy="10.6">0 </tspan><tspan x="1667.4" dy="-10.6">[+]</tspan></text>
</g>
<g font-size="60.5" fill="#1c1616">
<text x="1543.5" y="585.7">SILTY CLAY</text>
<text x="1545.2" y="658.4">WITH SAND</text>
<text x="1543.2" y="730.4">AND GRAVEL</text>
<text x="1544" y="1375.7">VERY SOFT</text>
<text x="1545.2" y="1448.0">WEATHERED</text>
<text x="1543.5" y="1520.4">SANDY</text>
<text x="1543.5" y="1592.8">SILTSTONE</text>
<text x="1543.5" y="2119.4">SOFT</text>
<text x="1545.2" y="2190.6">WEATHERED</text>
<text x="1543.5" y="2262.6">SANDY</text>
<text x="1543.5" y="2334.4">SILTSTONE</text>
</g>
<g id="column">
<clipPath id="colclip"><rect x="1976.0" y="163.6" width="278.0" height="2313.4"/></clipPath>
<g clip-path="url(#colclip)">
<rect x="1956.0" y="143.6" width="318.0" height="1007.8000000000001" fill="url(#hatch)" filter="url(#soft)"/>
<rect x="1956.0" y="1151.4" width="318.0" height="1345.6" fill="url(#dash1)" filter="url(#soft)"/>
<rect x="1956.0" y="1959.2" width="318.0" height="537.8" fill="url(#dash2)" filter="url(#soft2)"/>
</g>
<rect x="1976.0" y="163.6" width="278.0" height="5" fill="#2c2424"/>
<rect x="1976.0" y="163.6" width="4.4" height="987.8000000000001" fill="#4a4240"/>
<rect x="2249.6" y="163.6" width="4.4" height="987.8000000000001" fill="#4a4240"/>
<rect x="1976.0" y="1151.4" width="4.4" height="1325.6" fill="#1d3a27"/>
<rect x="2249.6" y="1151.4" width="4.4" height="1325.6" fill="#1d3a27"/>
<rect x="1976.0" y="1149.6000000000001" width="278.0" height="3.6" fill="#1c3424"/>
<rect x="1976.0" y="1957.2" width="278.0" height="4" fill="#0c3a1e"/>
<rect x="1976.0" y="2472.6" width="278.0" height="4.4" fill="#221c1a"/>
<rect x="2091" y="238" width="30.2" height="2275" fill="url(#tube)"/>
<rect x="2081.8" y="126" width="49.8" height="113.5" fill="url(#casing)"/>
<path d="M2079.5,107.4 L2133,107.4 L2135.6,126.8 L2076.8,126.8 Z" fill="url(#cap)"/>
<rect x="2101.2" y="186" width="10.8" height="2298" fill="url(#rod)"/>
<rect x="2098.4" y="161.6" width="16.2" height="26.4" fill="#1a1212"/>
<rect x="2099" y="2482" width="15.6" height="25.4" fill="#1a1212"/>
</g>
<g id="legend">
<rect x="29.3" y="2660.2" width="2186.4" height="301.8" fill="none" stroke="#1c1818" stroke-width="4.4"/>
<g font-size="50" fill="#1c1616">
<rect x="45" y="2714.5" width="101" height="15" fill="#03abb3"/>
<text x="156" y="2738.6">005 - 08 Feb 2011</text>
<rect x="592" y="2714.5" width="102" height="15" fill="#1d4d2c"/>
<text x="704" y="2738.6">006 - 08 Jun 2011</text>
<rect x="1139" y="2714.5" width="102" height="15" fill="#c0704a"/>
<text x="1251.5" y="2738.6">007 - 09 Nov 2011</text>
<rect x="1679" y="2714.5" width="103" height="15" fill="#6c5c6c"/>
<text x="1791" y="2738.6">008 - 06 Mar 2012</text>
<rect x="45" y="2807.0" width="101" height="15" fill="#c5afb9"/>
<text x="156" y="2831.1">009 - 27 Jul 2012</text>
<rect x="592" y="2807.0" width="102" height="15" fill="#54386a"/>
<text x="704" y="2831.1">010 - 20 Nov 2012</text>
<rect x="1139" y="2807.0" width="102" height="15" fill="#1ba86a"/>
<text x="1251.5" y="2831.1">011 - 06 Mar 2013</text>
<rect x="1679" y="2807.0" width="103" height="15" fill="#b05a9b"/>
<text x="1791" y="2831.1">012 - 15 Jul 2013</text>
<rect x="43" y="2897.0" width="101" height="15" fill="#867e7e"/>
<text x="155" y="2921.1">013 - 07 Oct 2013</text>
<rect x="592" y="2897.0" width="102" height="15" fill="#e9dd52"/>
<text x="704" y="2921.1">014 - 16 Dec 2014</text>
<rect x="1139" y="2897.0" width="102" height="15" fill="#f1313a"/>
<text x="1251.5" y="2921.1">015 - 23 Mar 2015</text>
</g></g>
</svg>
</body>
</html>
